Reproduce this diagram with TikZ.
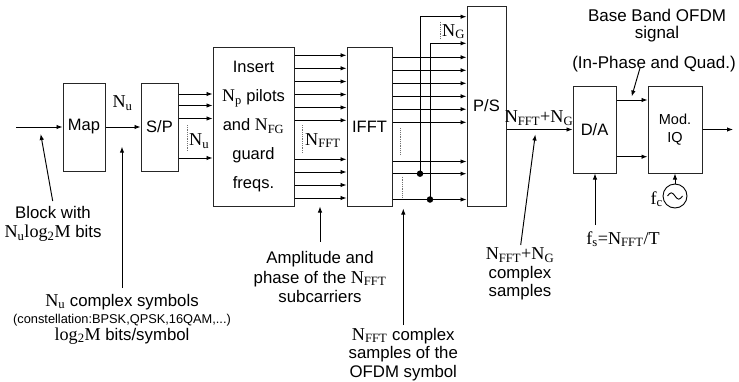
\documentclass[tikz,border=0pt]{standalone}
\usepackage{fontspec}
\setmainfont{Liberation Sans}
\newfontfamily\tm[Scale=1.08]{Liberation Serif}
\usetikzlibrary{arrows.meta,calc}
\newcommand\sNu{{\tm N\textsubscript{u}}}
\newcommand\sNfft{{\tm N\textsubscript{FFT}}}
\newcommand\sNg{{\tm N\textsubscript{G}}}
\newcommand\sNp{{\tm N\textsubscript{p}}}
\newcommand\sNfg{{\tm N\textsubscript{FG}}}
\newcommand\slogM{{\tm log\textsubscript{2}M}}
\begin{document}
\begin{tikzpicture}[x=1pt,y=-1pt,
  box/.style={draw=black!85,line width=1pt,inner sep=0pt,font=\fontsize{16.5}{19.7}\selectfont},
  arr/.style={-{Latex[length=6pt,width=4.5pt]},line width=0.95pt},
  dots/.style={densely dotted,line width=0.8pt,black!55},
  dot/.style={circle,fill=black,inner sep=0pt,minimum size=6.5pt},
  lbl/.style={inner sep=0pt,align=center,font=\fontsize{16.8}{19.7}\selectfont}]
\useasboundingbox (0,0) rectangle (739,381);
% blocks
\node[box,minimum width=42,minimum height=88] (map) at (84,127) {Map};
\node[box,minimum width=37,minimum height=88] (sp) at (159.5,127) {S/P};
\node[box,minimum width=81,minimum height=159,align=center,font=\fontsize{16.5}{29}\selectfont] (ins) at (253.5,126.5) {Insert\\ \sNp{} pilots\\ and \sNfg\\ guard\\ freqs.};
\node[box,minimum width=45,minimum height=159] (ifft) at (369.5,126.5) {IFFT};
\node[box,minimum width=39,minimum height=200] (ps) at (486.5,106) {\raisebox{-4pt}{P/S}};
\node[box,minimum width=43,minimum height=87] (da) at (594.5,129.5) {D/A};
\node[box,minimum width=54,minimum height=87,align=center,font=\fontsize{14.5}{17.5}\selectfont] (mod) at (675,129.5) {Mod.\\IQ};
\node[draw,circle,line width=0.9pt,minimum size=24pt,inner sep=0pt] (osc) at (675,196) {};
\draw[line width=0.9pt] ([xshift=-7.5pt]osc.center) sin ++(3.75,-3.2) cos ++(3.75,3.2) sin ++(3.75,3.2) cos ++(3.75,-3.2);
% main chain
\coordinate (in) at (16,127);
\draw[arr] (in) -- (map);
\draw[arr] (map) -- (sp);
\foreach \y in {94,105.5,118.5,158} \draw[arr] (sp.east |- 0,\y) -- (ins.west |- 0,\y);
\foreach \y in {55.3,68.3,81.5,94.5,107.5,120.3,159.3,172,185,198} \draw[arr] (ins.east |- 0,\y) -- (ifft.west |- 0,\y);
\foreach \y in {57.3,70.3,83.3,96.3,109.2,122.3,161.5,173.7,199.5} \draw[arr] (ifft.east |- 0,\y) -- (ps.west |- 0,\y);
% cyclic prefix
\node[dot] (d1) at (420,173.7) {};
\node[dot] (d2) at (430,199.5) {};
\draw[arr] (d1.center) |- (ps.west |- 0,16.7);
\draw[arr] (d2.center) |- (ps.west |- 0,43.3);
% dotted markers
\draw[dots] (187.3,125) -- (187.3,151.7);
\node[lbl,anchor=west] (lnu2) at (189,141) {\sNu};
\draw[dots] (302.7,125) -- (302.7,153.3);
\node[lbl,anchor=west] (lnfft) at (305,140.5) {\sNfft};
\draw[dots] (400.7,128.3) -- (400.7,155);
\draw[dots] (402.3,176.7) -- (402.3,197.3);
\draw[dots] (440.7,21.7) -- (440.7,39.3);
\node[lbl,anchor=west] (lng) at (442,31.5) {\sNg};
% labels on arrows
\node[lbl] (lnu) at (122.5,103) {\sNu};
\node[lbl] (lnn) at (539,118) {{\tm N\textsubscript{FFT}+N\textsubscript{G}}};
% output side
\draw[arr] (ps.east |- da.west) -- (da.west);
\draw[arr] (da.east |- 0,100) -- (mod.west |- 0,100);
\draw[arr] (da.east |- 0,156.7) -- (mod.west |- 0,156.7);
\coordinate (out) at (733,129.5);
\draw[arr] (mod) -- (out);
\draw[arr] (osc) -- (mod);
\node[lbl,anchor=east] (lfc) at ([xshift=0.5pt,yshift=-3pt]osc.west) {{\tm f\textsubscript{c}}};
\node[lbl,font=\fontsize{17}{17.5}\selectfont] (lbb) at (657,25.5) {Base Band OFDM\\signal};
\node[lbl,font=\fontsize{17}{17.5}\selectfont] (liq) at (654,64) {(In-Phase and Quad.)};
\coordinate (a1) at (640,68);
\coordinate (a1e) at (631.7,96.5);
\draw[arr] (a1) -- (a1e);
\node[lbl] (lfs) at (623,239) {{\tm f\textsubscript{s}=N\textsubscript{FFT}/T}};
\coordinate (fsa) at (595,225);
\draw[arr] (fsa) -- (fsa |- da.south);
% bottom annotations
\node[lbl] (lblock) at (53,224) {Block with\\ \sNu\slogM{} bits};
\coordinate (b1) at (52.7,201);
\coordinate (b1e) at (40.7,134);
\draw[arr] (b1) -- (b1e);
\node[lbl,font=\fontsize{16.8}{17}\selectfont] (lsym) at (122,319) {\sNu{} complex symbols\\{\fontsize{12.8}{13}\selectfont (constellation:BPSK,QPSK,16QAM,...)}\\\slogM{} bits/symbol};
\coordinate (s1) at (122,288);
\coordinate (s1e) at (122,146.7);
\draw[arr] (s1) -- (s1e);
\node[lbl] (lamp) at (320,277) {Amplitude and\\phase of the \sNfft\\subcarriers};
\coordinate (p1) at (320,241.7);
\draw[arr] (p1) -- (p1 |- ins.south);
\node[lbl,font=\fontsize{16.8}{18.8}\selectfont] (lofdm) at (403.3,354.5) {\sNfft{} complex\\samples of the\\OFDM symbol};
\coordinate (o1) at (403.3,325);
\coordinate (o1e) at (403.3,208.5);
\draw[arr] (o1) -- (o1e);
\node[lbl,font=\fontsize{16.8}{18.3}\selectfont] (lcs) at (520,274) {{\tm N\textsubscript{FFT}+N\textsubscript{G}}\\complex\\samples};
\coordinate (c1) at (520.7,245);
\coordinate (c1e) at (535.3,134.5);
\draw[arr] (c1) -- (c1e);
\end{tikzpicture}
\end{document}
